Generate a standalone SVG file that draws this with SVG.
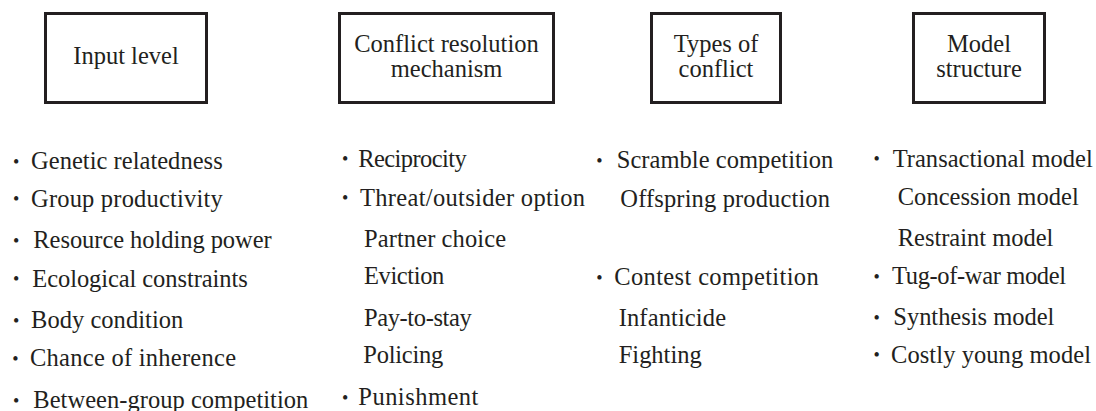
<svg xmlns="http://www.w3.org/2000/svg" width="1096" height="411" viewBox="0 0 1096 411">
<style>
text { font-family: "Liberation Serif", "Times New Roman", serif; font-size: 24.5px; fill: #231f20; }
.t { text-anchor: middle; }
.box { fill: none; stroke: #231f20; stroke-width: 3; }
.b { font-size: 18px; }
</style>
<rect width="1096" height="411" fill="#ffffff"/>
<g id="node-input-level">
<rect class="box" x="45.5" y="13.5" width="161" height="89"/>
<text class="t" x="126" y="64">Input level</text>
</g>
<g id="node-conflict-resolution">
<rect class="box" x="339.5" y="13.5" width="214" height="89"/>
<text class="t" x="446.5" y="51.5">Conflict resolution</text>
<text class="t" x="446.5" y="77">mechanism</text>
</g>
<g id="node-types-of-conflict">
<rect class="box" x="651.5" y="13.5" width="129" height="89"/>
<text class="t" x="716" y="51.5">Types of</text>
<text class="t" x="716" y="77">conflict</text>
</g>
<g id="node-model-structure">
<rect class="box" x="913.5" y="13.5" width="131" height="89"/>
<text class="t" x="979" y="51.5">Model</text>
<text class="t" x="979" y="77">structure</text>
</g>
<g id="connectors"></g>
<g id="list-input-level">
<text class="b" x="12.9" y="167.8">•</text><text x="31" y="169.3" textLength="191.7">Genetic relatedness</text>
<text class="b" x="12.9" y="205.2">•</text><text x="31" y="206.7" textLength="191.7">Group productivity</text>
<text class="b" x="12.9" y="246.8">•</text><text x="33.3" y="248.3" textLength="238.4">Resource holding power</text>
<text class="b" x="12.9" y="285.2">•</text><text x="32.3" y="286.7" textLength="215.4">Ecological constraints</text>
<text class="b" x="12.9" y="326.8">•</text><text x="31" y="328.3" textLength="152.3">Body condition</text>
<text class="b" x="12.2" y="364.5">•</text><text x="30" y="366" textLength="206">Chance of inherence</text>
<text class="b" x="12.9" y="406.8">•</text><text x="33.3" y="408.3" textLength="275">Between-group competition</text>
</g>
<g id="list-conflict-resolution">
<text class="b" x="341.9" y="165.2">•</text><text x="358.3" y="166.7" textLength="108.4">Reciprocity</text>
<text class="b" x="341.9" y="204.2">•</text><text x="360" y="205.7" textLength="225">Threat/outsider option</text>
<text x="364" y="246.7" textLength="142">Partner choice</text>
<text x="364" y="284" textLength="80.3">Eviction</text>
<text x="364" y="325.7" textLength="107.7">Pay-to-stay</text>
<text x="363.3" y="363.3" textLength="80">Policing</text>
<text class="b" x="341.9" y="403.5">•</text><text x="358.3" y="405" textLength="120">Punishment</text>
</g>
<g id="list-types-of-conflict">
<text class="b" x="596.2" y="166.8">•</text><text x="616.7" y="168.3" textLength="216.6">Scramble competition</text>
<text x="620.3" y="206.7" textLength="209.7">Offspring production</text>
<text class="b" x="596.2" y="283.5">•</text><text x="614.3" y="285" textLength="204.4">Contest competition</text>
<text x="618.7" y="325.7" textLength="107.3">Infanticide</text>
<text x="618.7" y="363.3" textLength="83">Fighting</text>
</g>
<g id="list-model-structure">
<text class="b" x="873.6" y="165.2">•</text><text x="892.7" y="166.7" textLength="200">Transactional model</text>
<text x="897.7" y="205" textLength="181">Concession model</text>
<text x="897.7" y="246" textLength="155.6">Restraint model</text>
<text class="b" x="873.6" y="282.5">•</text><text x="892" y="284" textLength="174">Tug-of-war model</text>
<text class="b" x="873.6" y="323.5">•</text><text x="893.3" y="325" textLength="161">Synthesis model</text>
<text class="b" x="873.6" y="361.2">•</text><text x="891" y="362.7" textLength="200">Costly young model</text>
</g>
</svg>
